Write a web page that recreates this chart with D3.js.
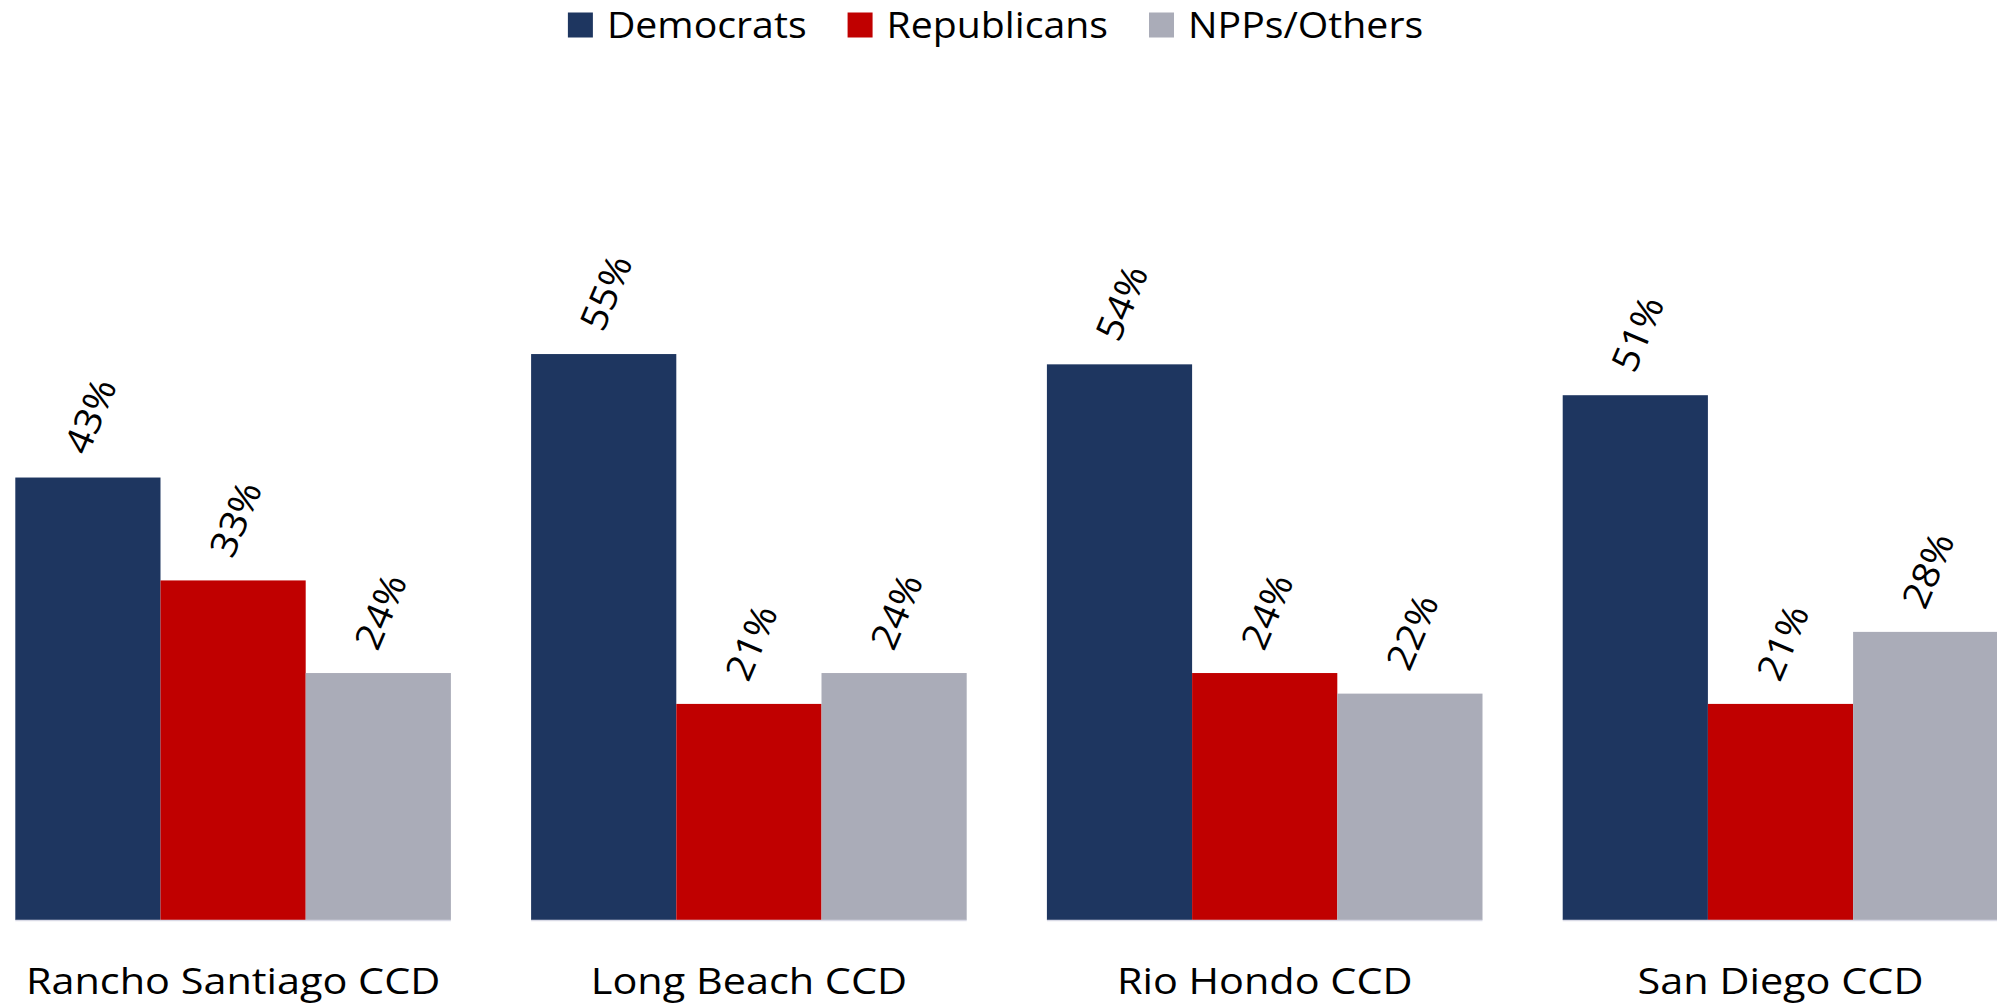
<!DOCTYPE html>
<html>
<head>
<meta charset="utf-8">
<script src="https://cdn.jsdelivr.net/npm/d3@7"></script>
<style>
  html, body { margin: 0; padding: 0; background: #ffffff; }
  svg { display: block; font-family: "Open Sans", "Noto Sans", sans-serif; }
</style>
</head>
<body>
<svg id="chart" width="1997" height="1008"></svg>
<script>
const categories = ["Rancho Santiago CCD", "Long Beach CCD", "Rio Hondo CCD", "San Diego CCD"];
const seriesNames = ["Democrats", "Republicans", "NPPs/Others"];
const democrats   = [0.43, 0.55, 0.54, 0.51];
const republicans = [0.33, 0.21, 0.24, 0.21];
const npps        = [0.24, 0.24, 0.22, 0.28];
const seriesColors = ["#1E3660", "#C00000", "#AAACB8"];

const seriesValues = [democrats, republicans, npps];

const W = 1997, H = 1008;
const svg = d3.select("#chart");

const baseY = 920;
const y = d3.scaleLinear().domain([0, 0.8]).range([baseY, baseY - 0.8 * 1029]);

const x0 = d3.scaleBand().domain(categories).range([15.3, 1998.3])
  .paddingInner(0.1555).paddingOuter(0);
const x1 = d3.scaleBand().domain(seriesNames).range([0, x0.bandwidth()]).padding(0);

const rows = categories.map((c, i) => ({
  category: c,
  values: seriesNames.map((s, j) => ({ series: s, value: seriesValues[j][i], color: seriesColors[j] }))
}));

const groups = svg.append("g").selectAll("g.group")
  .data(rows).join("g")
  .attr("class", "group")
  .attr("transform", d => `translate(${x0(d.category)},0)`);

groups.selectAll("rect")
  .data(d => d.values).join("rect")
  .attr("x", d => x1(d.series))
  .attr("y", d => y(d.value))
  .attr("width", x1.bandwidth())
  .attr("height", d => baseY - y(d.value))
  .attr("fill", d => d.color);

// thin light baseline under bars
groups.append("line")
  .attr("x1", 0).attr("x2", x0.bandwidth())
  .attr("y1", baseY + 0.5).attr("y2", baseY + 0.5)
  .attr("stroke", "#D9DAE6").attr("stroke-width", 1.5);

// rotated value labels
groups.selectAll("text.val")
  .data(d => d.values).join("text")
  .attr("class", "val")
  .attr("transform", d => {
    const cx = x1(d.series) + x1.bandwidth() / 2 + 1;
    const cy = y(d.value) - 62;
    return `translate(${cx},${cy}) rotate(-67) scale(1.06,1)`;
  })
  .attr("text-anchor", "middle")
  .attr("dominant-baseline", "central")
  .attr("font-size", 37)
  .attr("fill", "#000")
  .text(d => d3.format(".0%")(d.value));

// category axis labels
const xAxis = d3.axisBottom(x0).tickSize(0).tickPadding(0);
const axisG = svg.append("g").attr("transform", `translate(0,${baseY})`).call(xAxis);
axisG.select(".domain").remove();
axisG.selectAll("text")
  .attr("font-family", "\"Open Sans\", sans-serif")
  .attr("font-size", 36)
  .attr("fill", "#000")
  .attr("dy", null)
  .attr("y", 0)
  .attr("transform", "translate(0,74) scale(1.15,1)");

// legend
const legendScaleX = 1.09;
const legend = svg.append("g");
const items = legend.selectAll("g.item").data(seriesNames.map((s, j) => ({ s, c: seriesColors[j] })))
  .join("g").attr("class", "item");
items.append("rect").attr("width", 25).attr("height", 25).attr("y", 12.5).attr("fill", d => d.c);
items.append("text")
  .attr("transform", `translate(39,38) scale(${legendScaleX},1)`)
  .attr("font-size", 36).attr("fill", "#000").text(d => d.s);
let cursor = 0;
items.each(function() {
  const g = d3.select(this);
  const tw = g.select("text").node().getComputedTextLength() * legendScaleX;
  g.attr("transform", `translate(${cursor},0)`);
  cursor += 39 + tw + 41;
});
const totalW = cursor - 41;
legend.attr("transform", `translate(${(W - totalW) / 2 - 3},0)`);
</script>
</body>
</html>
